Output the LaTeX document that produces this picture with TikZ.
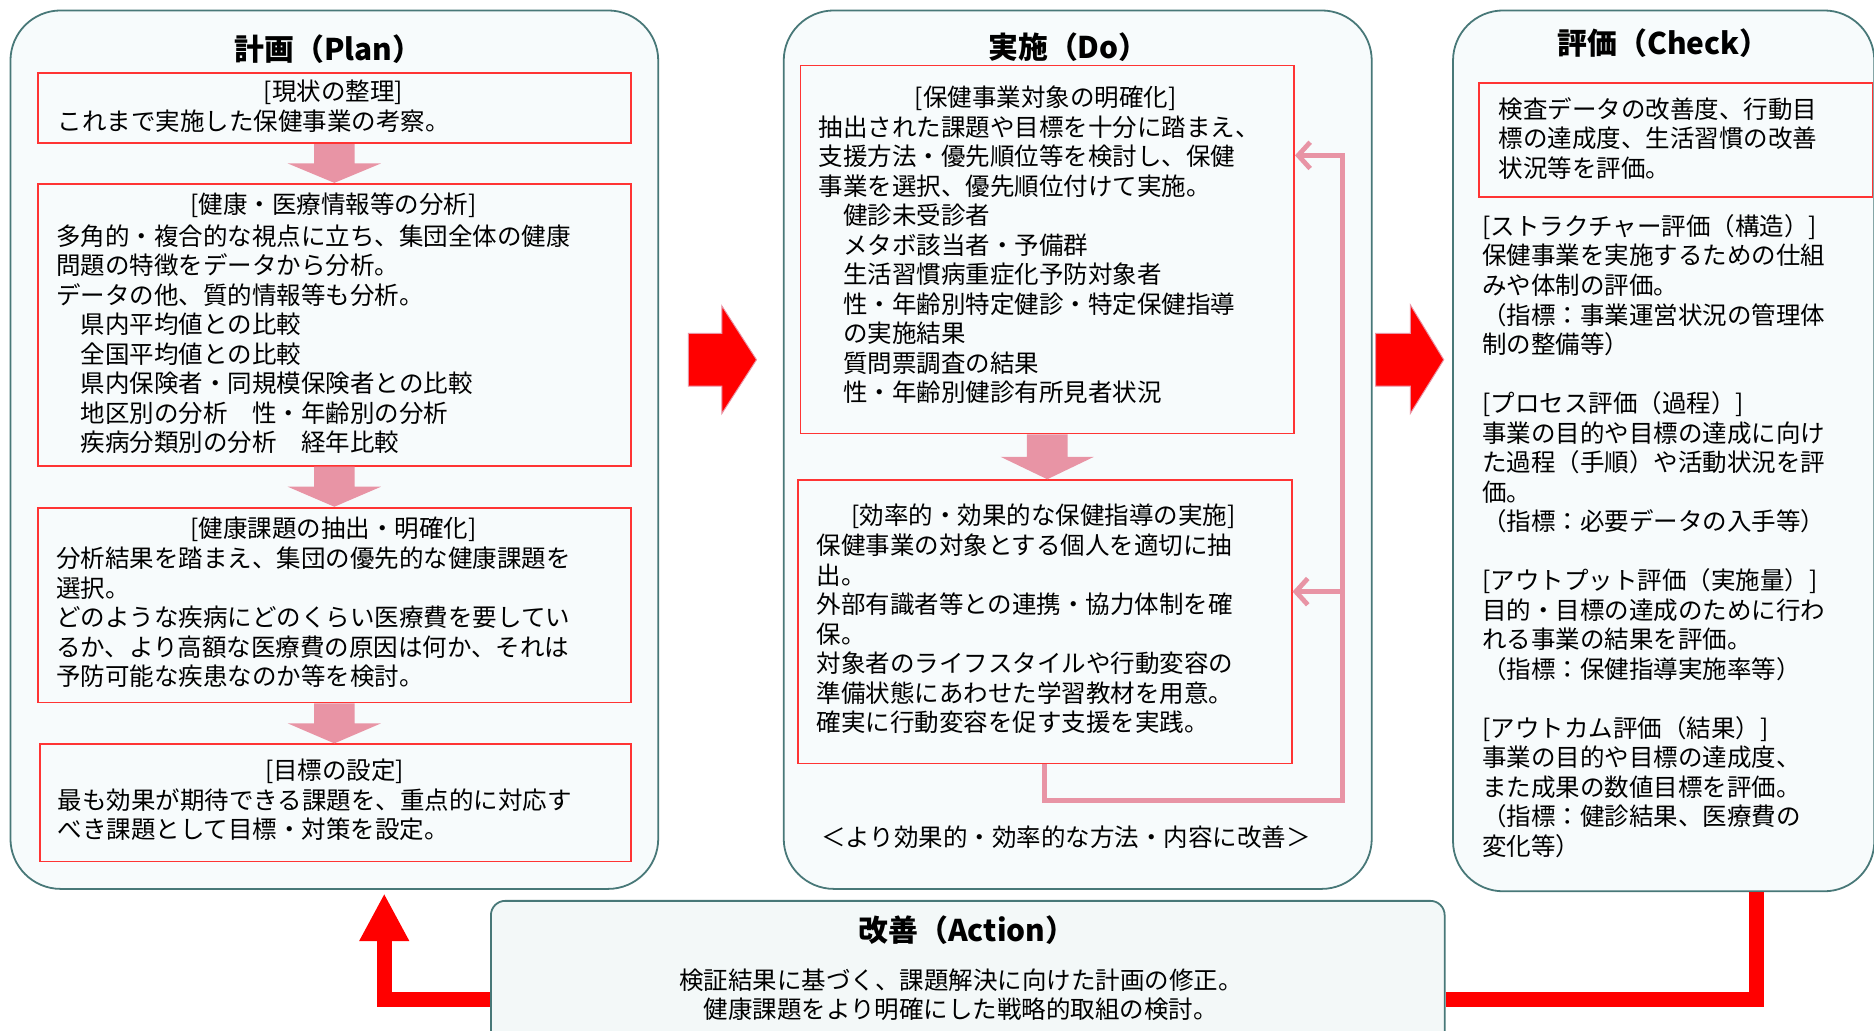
\documentclass[tikz,border=0pt]{standalone}
\usepackage{fontspec}
\setmainfont{Noto Sans CJK JP}
\usetikzlibrary{calc,arrows.meta}
\definecolor{panelfill}{RGB}{247,251,252}
\definecolor{actfill}{RGB}{243,248,248}
\definecolor{panelline}{RGB}{72,120,120}
\definecolor{boxred}{RGB}{255,52,52}
\definecolor{pinkc}{RGB}{232,148,165}
\definecolor{blockred}{RGB}{255,0,0}
\newcommand{\bodytxt}[1]{\parbox[t]{600pt}{\raggedright\fontsize{20.5}{24.7}\selectfont #1}}
\newcommand{\pinkdown}[2]{%
  \fill[pinkc] let \p1=(#1.south), \p2=(#2.north), \p3=($(\p1)!0.5!(\p2)$) in
  (\x1-17pt,\y1) -- (\x1+17pt,\y1) -- (\x1+17pt,\y3) -- (\x1+39pt,\y3) -- (\x1,\y2)
  -- (\x1-39pt,\y3) -- (\x1-17pt,\y3) -- cycle;}
\begin{document}
\begin{tikzpicture}[x=1pt,y=-1pt,
 panel/.style={draw=panelline, line width=1.5, fill=panelfill, rounded corners=42, inner sep=0, anchor=north west},
 redbox/.style={draw=boxred, line width=1.5, inner sep=0, anchor=north west},
 ttl/.style={font=\fontsize{25}{30}\selectfont\bfseries, anchor=base, inner sep=0},
 hd/.style={font=\fontsize{20.5}{24.7}\selectfont, anchor=base, inner sep=0},
 bd/.style={anchor=base west, inner sep=0},
 loopline/.style={draw=pinkc, line width=4, line join=miter},
 barb/.style={-{Straight Barb[length=10pt,width=22pt]}},
 redl/.style={draw=blockred, line width=12.5, line join=miter},
 blockarrow/.style={fill=blockred, draw=pinkc, line width=0.8}
]
\useasboundingbox (0,0) rectangle (1568,862);
\clip (0,0) rectangle (1568,862);
\fill[white] (0,0) rectangle (1568,862);

% panels
\node[panel, minimum width=542, minimum height=735] (plan) at (8,8) {};
\node[panel, minimum width=492, minimum height=735] (do) at (655,8) {};
\node[panel, minimum width=352.5, minimum height=737] (chk) at (1215,8) {};
\node[panel, fill=actfill, rounded corners=12, minimum width=798, minimum height=140] (act) at (410,753) {};

% red boxes
\node[redbox, minimum width=496, minimum height=59] (b1) at (31,60) {};
\node[redbox, minimum width=496, minimum height=236] (b2) at (31,153) {};
\node[redbox, minimum width=496, minimum height=163] (b3) at (31,424) {};
\node[redbox, minimum width=494, minimum height=98] (b4) at (33,622) {};
\node[redbox, minimum width=413, minimum height=308] (b5) at (669,54) {};
\node[redbox, minimum width=413, minimum height=237] (b6) at (667,401) {};
\node[redbox, minimum width=329, minimum height=95] (b7) at (1237,69) {};

% pink arrows
\pinkdown{b1}{b2}
\pinkdown{b2}{b3}
\pinkdown{b3}{b4}
\pinkdown{b5}{b6}

% feedback loop
\coordinate (lt) at (1123,130);
\coordinate (lm) at (1123,495);
\draw[loopline, barb] (b6.south) -- ++(0,30) -| (lt) -- (lt -| b5.east);
\draw[loopline, barb] (lm) -- (lm -| b6.east);

% red block arrows
\fill[blockarrow] (576,279) -- (604,279) -- (604,256) -- (633,301) -- (604,346) -- (604,323) -- (576,323) -- cycle;
\fill[blockarrow] (1151,279) -- (1180,279) -- (1180,255) -- (1208,301) -- (1180,346) -- (1180,323) -- (1151,323) -- cycle;

% red L connectors
\coordinate (al) at ($(act.north west)+(0,83)$);
\coordinate (ar) at ($(act.north east)+(0,83)$);
\coordinate (tipL) at ($(plan.south west)+(313.5,3)$);
\draw[redl, -{Triangle[length=40pt,width=39pt]}] (al) -| (tipL);
\draw[redl] ($(chk.south east)+(-99,0)$) |- (ar);

% Plan texts
\node[ttl] (tplan) at (275,51) {計画（Plan）};
\node[hd] (h1) at (279,84) {[現状の整理]};
\node[bd] (t1) at (48,109) {\bodytxt{これまで実施した保健事業の考察。}};
\node[hd] (h2) at (279,179) {[健康・医療情報等の分析]};
\node[bd] (t2) at (47,205) {\bodytxt{多角的・複合的な視点に立ち、集団全体の健康\\
問題の特徴をデータから分析。\\
データの他、質的情報等も分析。\\
　県内平均値との比較\\
　全国平均値との比較\\
　県内保険者・同規模保険者との比較\\
　地区別の分析　性・年齢別の分析\\
　疾病分類別の分析　経年比較}};
\node[hd] (h3) at (279,450) {[健康課題の抽出・明確化]};
\node[bd] (t3) at (47,475) {\bodytxt{分析結果を踏まえ、集団の優先的な健康課題を\\
選択。\\
どのような疾病にどのくらい医療費を要してい\\
るか、より高額な医療費の原因は何か、それは\\
予防可能な疾患なのか等を検討。}};
\node[hd] (h4) at (280,652) {[目標の設定]};
\node[bd] (t4) at (48,677) {\bodytxt{最も効果が期待できる課題を、重点的に対応す\\
べき課題として目標・対策を設定。}};

% Do texts
\node[ttl] (tdo) at (894,49) {実施（Do）};
\node[hd] (h5) at (875,89) {[保健事業対象の明確化]};
\node[bd] (t5) at (685,114) {\bodytxt{抽出された課題や目標を十分に踏まえ、\\
支援方法・優先順位等を検討し、保健\\
事業を選択、優先順位付けて実施。\\
　健診未受診者\\
　メタボ該当者・予備群\\
　生活習慣病重症化予防対象者\\
　性・年齢別特定健診・特定保健指導\\
　の実施結果\\
　質問票調査の結果\\
　性・年齢別健診有所見者状況}};
\node[hd] (h6) at (873,439) {[効率的・効果的な保健指導の実施]};
\node[bd] (t6) at (683,464) {\bodytxt{保健事業の対象とする個人を適切に抽\\
出。\\
外部有識者等との連携・協力体制を確\\
保。\\
対象者のライフスタイルや行動変容の\\
準備状態にあわせた学習教材を用意。\\
確実に行動変容を促す支援を実践。}};
\node[hd] (tdo2) at (892,708) {＜より効果的・効率的な方法・内容に改善＞};

% Check texts
\node[ttl] (tchk) at (1392,46) {評価（Check）};
\node[bd] (t7) at (1254,99) {\bodytxt{検査データの改善度、行動目\\
標の達成度、生活習慣の改善\\
状況等を評価。}};
\node[bd] (t8) at (1240,197) {\bodytxt{[ストラクチャー評価（構造）]\\
保健事業を実施するための仕組\\
みや体制の評価。\\
（指標：事業運営状況の管理体\\
制の整備等）\\[24.7pt]
[プロセス評価（過程）]\\
事業の目的や目標の達成に向け\\
た過程（手順）や活動状況を評\\
価。\\
（指標：必要データの入手等）\\[24.7pt]
[アウトプット評価（実施量）]\\
目的・目標の達成のために行わ\\
れる事業の結果を評価。\\
（指標：保健指導実施率等）\\[24.7pt]
[アウトカム評価（結果）]\\
事業の目的や目標の達成度、\\
また成果の数値目標を評価。\\
（指標：健診結果、医療費の\\
変化等）}};

% Action texts
\node[ttl] (tact) at (809,788) {改善（Action）};
\node[hd] (ta1) at (804,828) {検証結果に基づく、課題解決に向けた計画の修正。};
\node[hd] (ta2) at (804,852) {健康課題をより明確にした戦略的取組の検討。};
\end{tikzpicture}
\end{document}
